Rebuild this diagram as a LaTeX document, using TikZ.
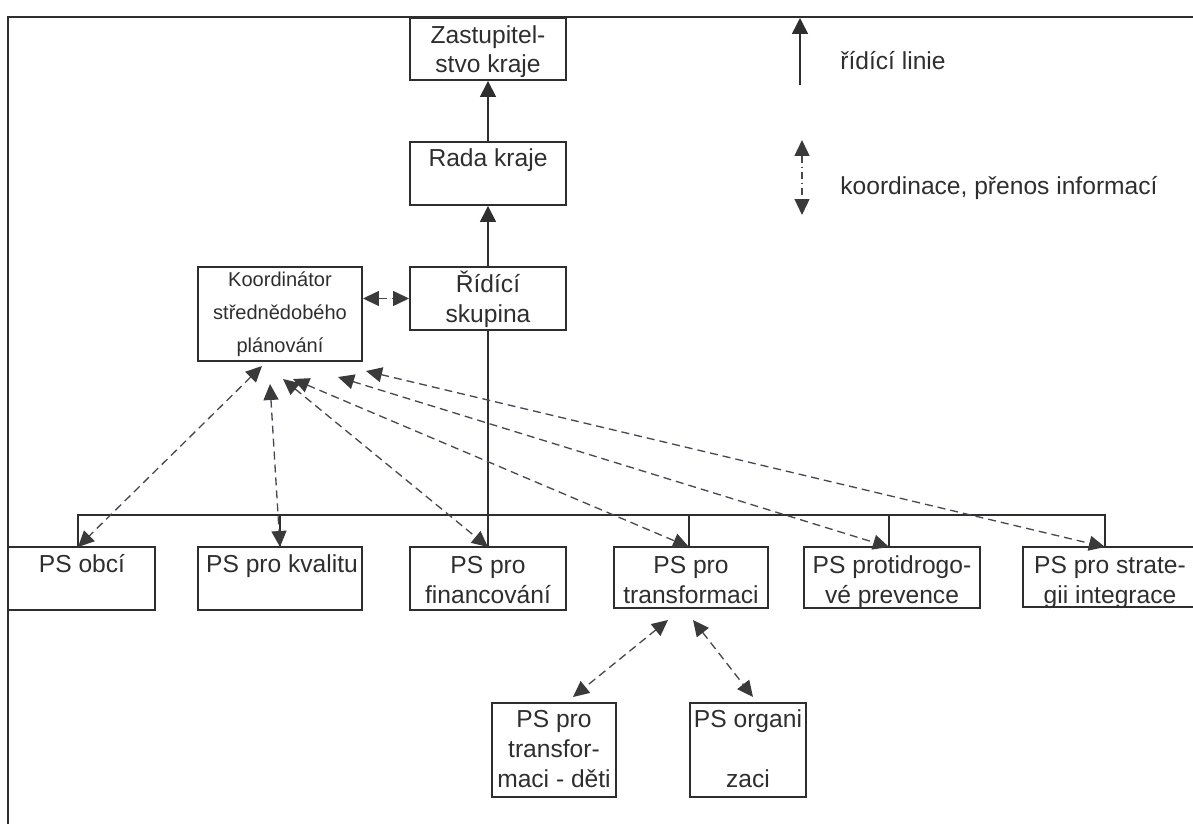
\documentclass[tikz,border=0pt]{standalone}
\usepackage{fontspec}
\setmainfont{Liberation Sans}
\usetikzlibrary{arrows.meta,calc}
\newdimen\pu
\pu=0.02cm
\definecolor{ink}{HTML}{2E2E2E}
\definecolor{dsh}{HTML}{4A4652}
\definecolor{tip}{HTML}{3A3A3A}
\begin{document}
\begin{tikzpicture}[x=0.02cm,y=-0.02cm,
  box/.style={draw=ink, line width=1.1pt, rectangle, inner sep=0pt},
  txt/.style={font=\fontsize{14}{17}\selectfont, align=center, inner sep=0pt, text=ink, anchor=base},
  small/.style={font=\fontsize{11.4}{18.5}\selectfont, align=center, inner sep=0pt, text=ink, anchor=base},
  ctl/.style={draw=ink, line width=0.9pt, -{Triangle[length=0.32cm,width=0.32cm]}},
  crd/.style={draw=dsh, line width=0.75pt, dash pattern=on 0.16cm off 0.1cm,
    {Triangle[length=0.32cm,width=0.3cm,color=tip]}-{Triangle[length=0.32cm,width=0.3cm,color=tip]}},
  leg/.style={draw=dsh, line width=0.75pt, dash pattern=on 0.14cm off 0.08cm on 0.02cm off 0.08cm,
    {Triangle[length=0.32cm,width=0.3cm,color=tip]}-{Triangle[length=0.32cm,width=0.3cm,color=tip]}},
  frame/.style={draw=ink, line width=1.1pt}
]
\useasboundingbox (0,0) rectangle (1193,824);

% frame
\coordinate (fbl) at (8,830);
\coordinate (ftl) at (8,17);
\coordinate (ftr) at (1200,17);
\draw[frame] (fbl) -- (ftl) -- (ftr);

% top boxes
\node[box, minimum width=156\pu, minimum height=62\pu] (zast) at (488,49) {};
\node[txt] (zastT) at (488,73) {Zastupitel-\\stvo kraje};
\node[box, minimum width=156\pu, minimum height=63\pu] (rada) at (488,173.5) {};
\node[txt] (radaT) at (488,167) {Rada kraje};
\node[box, minimum width=156\pu, minimum height=63\pu] (ridici) at (488,298.5) {};
\node[txt] (ridiciT) at (488,322) {Řídící\\skupina};
\node[box, minimum width=164\pu, minimum height=94\pu] (koord) at (280,314) {};
\node[small] (koordT) at (280,352) {Koordinátor\\střednědobého\\plánování};

% PS boxes
\node[box, minimum width=147\pu, minimum height=63\pu] (obci) at (81.5,578.5) {};
\node[txt] (obciT) at (82,572) {PS obcí};
\node[box, minimum width=164\pu, minimum height=63\pu] (kval) at (280,578.5) {};
\node[txt] (kvalT) at (282,572) {PS pro kvalitu};
\node[box, minimum width=156\pu, minimum height=63\pu] (fin) at (488,578.5) {};
\node[txt] (finT) at (488,603) {PS pro\\financování};
\node[box, minimum width=154\pu, minimum height=61\pu] (trans) at (691,577.5) {};
\node[txt] (transT) at (691,603) {PS pro\\transformaci};
\node[box, minimum width=176\pu, minimum height=61\pu] (drog) at (892,577.5) {};
\node[txt] (drogT) at (892,603) {PS protidrogo-\\vé prevence};
\node[box, minimum width=177\pu, minimum height=60\pu] (strat) at (1111.5,577) {};
\node[txt] (stratT) at (1110,603) {PS pro strate-\\gii integrace};

% bottom boxes
\node[box, minimum width=124\pu, minimum height=94\pu] (deti) at (554,750) {};
\node[txt] (detiT) at (554,787) {PS pro\\transfor-\\maci - děti};
\node[box, minimum width=116\pu, minimum height=94\pu] (org) at (748,750) {};
\node[txt] (orgT) at (748,787) {PS organi\\[17pt]zaci};

% control lines
\draw[ctl] (rada) -- (zast);
\draw[ctl] (ridici) -- (rada);
\draw[draw=ink, line width=0.9pt] (ridici) -- (fin);

% bar and ticks
\coordinate (t1) at (78,547);
\coordinate (t2) at (280,547);
\coordinate (t3) at (488,547);
\coordinate (t4) at (689,547);
\coordinate (t5) at (889,547);
\coordinate (t6) at (1105,547);
\coordinate (bar) at (0,515);
\draw[draw=ink, line width=0.9pt] (t1) -- (t1 |- bar) -- (t6 |- bar) -- (t6);
\draw[draw=ink, line width=0.9pt] (t2) -- (t2 |- bar);
\draw[draw=ink, line width=0.9pt] (t4) -- (t4 |- bar);
\draw[draw=ink, line width=0.9pt] (t5) -- (t5 |- bar);

% coordination arrows
\coordinate (a1) at (262,366);
\coordinate (a2) at (270,384);
\coordinate (a3) at (283,379);
\coordinate (a4) at (293,379);
\coordinate (a5) at (338,377);
\coordinate (a6) at (366,371);
\draw[crd] (a1) -- (t1);
\draw[crd] (a2) -- (t2);
\draw[crd] (a3) -- (t3);
\draw[crd] (a4) -- (t4);
\draw[crd] (a5) -- (t5);
\draw[crd] (a6) -- (t6);
\draw[crd] (koord.east |- ridici.west) -- (ridici.west);

\coordinate (b1) at (668,620);
\coordinate (b2) at (693,620);
\coordinate (c1) at (573,697);
\coordinate (c2) at (753,697);
\draw[crd] (b1) -- (c1);
\draw[crd] (b2) -- (c2);

% legend
\coordinate (l1a) at (800,85);
\coordinate (l1b) at (800,18);
\draw[ctl] (l1a) -- (l1b);
\node[txt, anchor=base west] (l1T) at (840,70) {řídící linie};
\coordinate (l2a) at (802,140);
\coordinate (l2b) at (802,215);
\draw[leg] (l2a) -- (l2b);
\node[txt, anchor=base west] (l2T) at (840,195) {koordinace, přenos informací};
\end{tikzpicture}
\end{document}
